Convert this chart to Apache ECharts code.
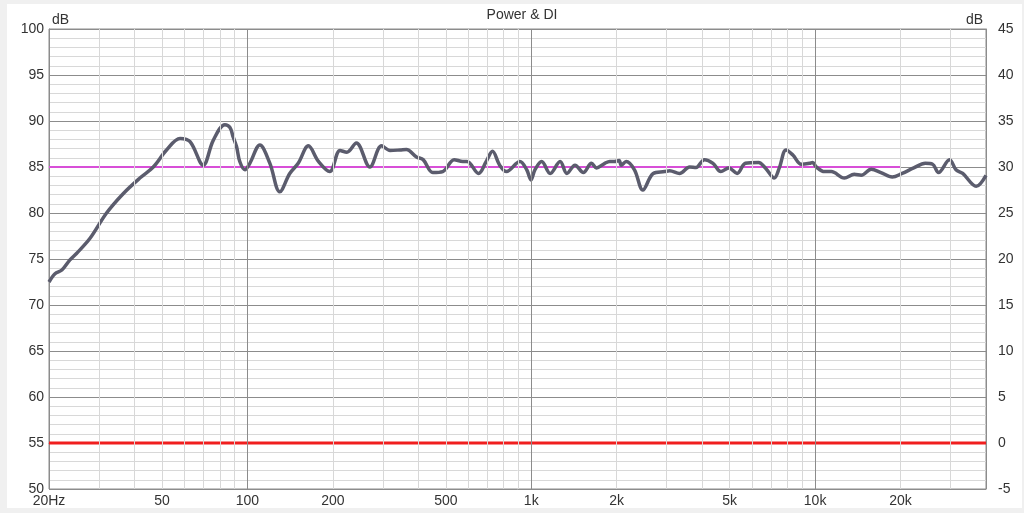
<!DOCTYPE html>
<html>
<head>
<meta charset="utf-8">
<script src="https://cdn.jsdelivr.net/npm/echarts@6/dist/echarts.min.js"></script>
<style>
html,body{margin:0;padding:0;background:#f0f0f0;}
#c{width:1024px;height:513px;}
</style>
</head>
<body>
<div id="c"></div>
<script>
// Power response (Hz, dB)
const powerFreq = [20,21,22.2,23.7,25,27.9,31.9,36.5,41.8,46.6,51.9,57.9,62.8,69.9,75.8,83.3,86.8,89,91.6,94,98,102,110.6,120,130,141,151,164,178,195,212,224,242,270,297,318,345,363,394,416,450,488,535,574,594,652,694,730,774,818,912,964,998,1030,1088,1166,1264,1335,1426,1526,1630,1698,1816,1890,1965,2040,2074,2160,2310,2472,2690,2950,3073,3330,3614,3808,4072,4368,4656,4960,5310,5680,6320,6680,7180,7480,7900,8350,8940,9560,9800,10100,10790,11400,12680,13740,14540,15760,17060,18700,20260,22260,24440,25940,27200,29760,31360,33120,36940,40000];
const powerDb   = [72.5,73.4,73.8,74.9,75.6,77.25,80.0,82.1,83.8,85.0,86.85,88.1,87.75,85.2,87.9,89.6,89.3,88.3,87.2,85.6,84.7,85.4,87.4,85.4,82.3,84.3,85.4,87.3,85.6,84.5,86.8,86.6,87.6,85.0,87.3,86.8,86.85,86.9,86.1,85.8,84.4,84.5,85.8,85.6,85.6,84.3,85.6,86.7,85.2,84.5,85.6,84.7,83.6,84.7,85.6,84.3,85.6,84.3,85.2,84.4,85.4,84.9,85.4,85.6,85.6,85.7,85.2,85.6,84.7,82.5,84.3,84.5,84.6,84.3,85.0,84.95,85.8,85.4,84.5,84.9,84.3,85.4,85.5,84.9,83.8,84.9,86.85,86.3,85.3,85.4,85.5,85.0,84.5,84.5,83.8,84.2,84.1,84.75,84.4,83.9,84.3,84.9,85.4,85.3,84.4,85.8,84.7,84.3,82.9,84.1];
// Target line (dB on left axis) and DI (dB on right axis)
const targetFreq = [20, 20000];
const targetDb = [85, 85];
const diFreq = [20, 40000];
const diDb = [0, 0];
// Axis ticks
const xLabelValues = [20,50,100,200,500,1000,2000,5000,10000,20000];
const xLabelText = ['20Hz','50','100','200','500','1k','2k','5k','10k','20k'];
const xMajorGrid = [100,1000,10000];
const xMinorGrid = [30,40,50,60,70,80,90,200,300,400,500,600,700,800,900,2000,3000,4000,5000,6000,7000,8000,9000,20000,30000];

const FONT = 'Liberation Sans';
const TXT = '#333333';
const MAJOR = '#8c8c8c';
const MINOR = '#d8d8d8';

const chart = echarts.init(document.getElementById('c'), null, {renderer:'canvas'});
chart.setOption({
  animation:false,
  backgroundColor:'#f0f0f0',
  graphic:[{type:'rect', z:-10, silent:true, shape:{x:7,y:4,width:1015,height:504}, style:{fill:'#ffffff'}}],
  title:{text:'Power & DI', left:517, top:3, textAlign:'center',
    textStyle:{fontFamily:FONT, fontSize:14, fontWeight:'normal', color:TXT}},
  grid:{left:49, right:38, top:29, bottom:24, show:true, borderColor:MAJOR, borderWidth:1, backgroundColor:'transparent'},
  xAxis:{type:'log', logBase:10, min:20, max:40000,
    axisLine:{show:true, lineStyle:{color:MAJOR}},
    axisTick:{show:false},
    splitLine:{show:false},
    minorTick:{show:false}, minorSplitLine:{show:false},
    axisLabel:{customValues:xLabelValues, margin:5, fontFamily:FONT, fontSize:14, color:TXT,
      formatter:function(v){const i=xLabelValues.findIndex(x=>Math.abs(x-v)/x<1e-6); return i>=0?xLabelText[i]:'';}}
  },
  yAxis:[
    {type:'value', min:50, max:100, interval:5, position:'left',
      name:'dB', nameLocation:'end', nameGap:2,
      nameTextStyle:{fontFamily:FONT, fontSize:14, color:TXT, align:'left', padding:[0,0,0,3]},
      axisLine:{show:true, lineStyle:{color:MAJOR}}, axisTick:{show:false},
      axisLabel:{margin:5, fontFamily:FONT, fontSize:14, color:TXT},
      splitLine:{show:true, lineStyle:{color:MAJOR, width:1}},
      minorTick:{show:false, splitNumber:5},
      minorSplitLine:{show:true, lineStyle:{color:MINOR, width:1}}
    },
    {type:'value', min:-5, max:45, interval:5, position:'right',
      name:'dB', nameLocation:'end', nameGap:2,
      nameTextStyle:{fontFamily:FONT, fontSize:14, color:TXT, align:'right', padding:[0,3,0,0]},
      axisLine:{show:true, lineStyle:{color:MAJOR}}, axisTick:{show:false},
      axisLabel:{margin:12, fontFamily:FONT, fontSize:14, color:TXT},
      splitLine:{show:false}
    }
  ],
  series:[
    {type:'line', name:'grid', data:[], silent:true, z:1,
      markLine:{silent:true, symbol:['none','none'], label:{show:false}, animation:false,
        data: xMinorGrid.map(v=>({xAxis:v, lineStyle:{color:MINOR, width:1, type:'solid'}}))
          .concat(xMajorGrid.map(v=>({xAxis:v, lineStyle:{color:MAJOR, width:1, type:'solid'}})))
      }
    },
    {type:'line', name:'DI', yAxisIndex:1, data:diFreq.map((f,i)=>[f,diDb[i]]), showSymbol:false, silent:true, z:3,
      lineStyle:{color:'#f01e1e', width:3}},
    {type:'line', name:'Target', yAxisIndex:0, data:targetFreq.map((f,i)=>[f,targetDb[i]]), showSymbol:false, silent:true, z:3,
      lineStyle:{color:'#d84fd8', width:2}},
    {type:'line', name:'Power', yAxisIndex:0, data:powerFreq.map((f,i)=>[f,powerDb[i]]), showSymbol:false, silent:true, z:4,
      smooth:0.35, lineStyle:{color:'#5b5c6d', width:3.5}}
  ]
});
</script>
</body>
</html>
